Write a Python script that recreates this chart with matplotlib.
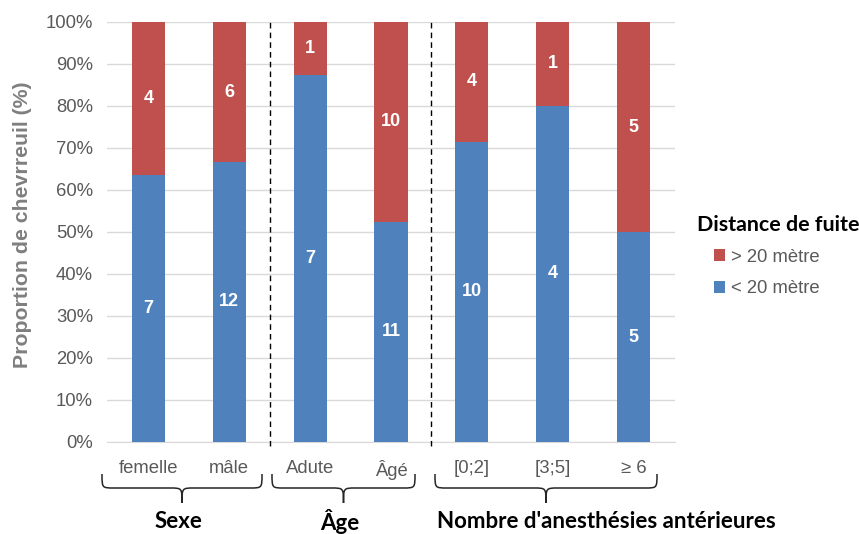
import numpy as np
import matplotlib
matplotlib.use("Agg")
import matplotlib.pyplot as plt
from matplotlib.path import Path
from matplotlib.patches import PathPatch
from matplotlib.transforms import blended_transform_factory

categories = ["femelle", "mâle", "Adute", "Âgé", "[0;2]", "[3;5]", "≥ 6"]
moins_20 = [7, 12, 7, 11, 10, 4, 5]
plus_20 = [4, 6, 1, 10, 4, 1, 5]
groupes = ["Sexe", "Âge", "Nombre d'anesthésies antérieures"]

RED = "#C0504D"
BLUE = "#4F81BD"
GREY = "#595959"

moins_20 = np.array(moins_20, dtype=float)
plus_20 = np.array(plus_20, dtype=float)
total = moins_20 + plus_20
p_moins = moins_20 / total * 100
p_plus = plus_20 / total * 100

plt.rcParams["font.family"] = ["Liberation Sans", "DejaVu Sans"]

fig = plt.figure(figsize=(8.59, 5.34), dpi=100)
ax = fig.add_axes([107 / 859, 1 - 442 / 534, 568 / 859, 420 / 534])

x = np.arange(len(categories))
b1 = ax.bar(x, p_moins, width=0.41, color=BLUE, label="< 20 mètre", zorder=3)
b2 = ax.bar(x, p_plus, width=0.41, bottom=p_moins, color=RED, label="> 20 mètre", zorder=3)

for i in range(len(x)):
    ax.text(x[i], p_moins[i] / 2, f"{int(moins_20[i])}", ha="center", va="center",
            color="white", fontsize=13, fontweight="bold", zorder=4)
    ax.text(x[i], p_moins[i] + p_plus[i] / 2, f"{int(plus_20[i])}", ha="center", va="center",
            color="white", fontsize=13, fontweight="bold", zorder=4)

ax.set_xlim(-0.51, 6.51)
ax.set_ylim(0, 100)
ax.set_yticks(np.arange(0, 101, 10))
ax.set_yticklabels([f"{v}%" for v in range(0, 101, 10)])
ax.set_xticks(x)
ax.set_xticklabels(categories)
ax.tick_params(axis="both", length=0, labelsize=13.3, colors=GREY)
ax.tick_params(axis="x", pad=13)
ax.tick_params(axis="y", pad=10)
ax.grid(axis="y", color="#D9D9D9", linewidth=1, zorder=0)
for s in ["top", "right", "left"]:
    ax.spines[s].set_visible(False)
ax.spines["bottom"].set_color("#D9D9D9")
ax.spines["bottom"].set_zorder(2)

ax.set_ylabel("Proportion de chevrreuil (%)", fontsize=15.3, fontweight="bold",
              color="#7F7F7F")
ax.yaxis.set_label_coords(-0.132, 0.517)

# separations between groups
for xs in [1.5, 3.5]:
    ax.plot([xs, xs], [-1, 100], color="black", linestyle=(0, (4, 3)), linewidth=1,
            clip_on=False, zorder=5)

# braces below tick labels
trans = blended_transform_factory(fig.transFigure, fig.transFigure)


def brace(x0, x1, ytop, ymid, ybot):
    xc = (x0 + x1) / 2
    r = 0.014
    verts = [
        (x0, ytop), (x0, ymid), (x0, ymid), (x0 + r, ymid),
        (xc - r, ymid),
        (xc, ymid), (xc, ymid), (xc, ybot),
        (xc, ymid), (xc, ymid), (xc + r, ymid),
        (x1 - r, ymid),
        (x1, ymid), (x1, ymid), (x1, ytop),
    ]
    codes = [Path.MOVETO, Path.CURVE4, Path.CURVE4, Path.CURVE4,
             Path.LINETO,
             Path.CURVE4, Path.CURVE4, Path.CURVE4,
             Path.CURVE4, Path.CURVE4, Path.CURVE4,
             Path.LINETO,
             Path.CURVE4, Path.CURVE4, Path.CURVE4]
    patch = PathPatch(Path(verts, codes), facecolor="none", edgecolor="#262626",
                      linewidth=1.1, transform=trans, clip_on=False)
    fig.add_artist(patch)


brace_px = [(102, 262), (272, 415), (435, 657)]
label_px = [178, 340, 606]
for (a, b), lx, name in zip(brace_px, label_px, groupes):
    brace(a / 859, b / 859, 1 - 474 / 534, 1 - 488 / 534, 1 - 503 / 534)
    fig.text(lx / 859, 1 - 522 / 534, name, ha="center", va="center",
             fontsize=16, fontweight="bold", family=["Lato", "DejaVu Sans"])

handles = [b2, b1]
leg = fig.legend(handles, ["> 20 mètre", "< 20 mètre"], loc="center left",
                 bbox_to_anchor=(714 / 859, 1 - 273 / 534), frameon=False,
                 fontsize=13.3, handlelength=0.6, handleheight=0.6, handletextpad=0.3,
                 labelspacing=0.8, borderaxespad=0, borderpad=0)
for t in leg.get_texts():
    t.set_color(GREY)
fig.text(697 / 859, 1 - 225 / 534, "Distance de fuite", ha="left", va="center",
         fontsize=15.4, fontweight="bold", family=["Lato", "DejaVu Sans"])

fig.savefig("out.png", dpi=100)
